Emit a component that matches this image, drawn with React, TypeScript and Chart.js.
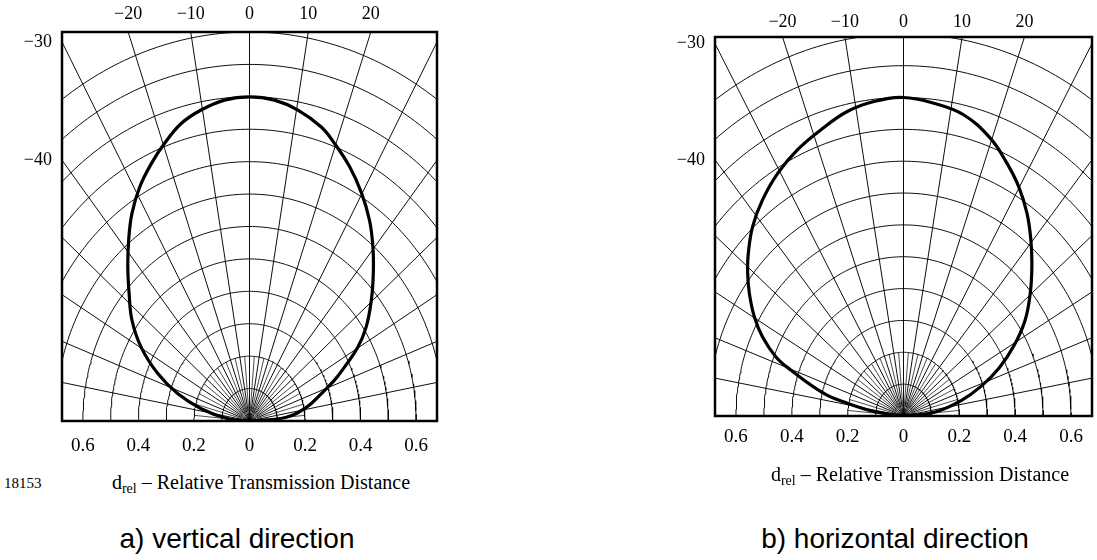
import React, { useEffect, useRef } from 'react';
import { Chart, registerables } from 'chart.js';

Chart.register(...registerables);

// ---- grid definition (polar diagram) ----
const arcRadii = [0.1, 0.2, 0.3, 0.4, 0.5, 0.6, 0.7, 0.8, 0.9, 1.0, 1.1, 1.2];
const spokeAngles = [-90, -80, -70, -60, -50, -40, -30, -20, -10, 0, 10, 20, 30, 40, 50, 60, 70, 80, 90];
const minorSpokeAngles = [-85, -75, -65, -55, -45, -35, -25, -15, -5, 5, 15, 25, 35, 45, 55, 65, 75, 85];

// ---- tick labels ----
const distanceTicks = [-0.6, -0.4, -0.2, 0, 0.2, 0.4, 0.6];
const topAngleTicks = [-20, -10, 0, 10, 20];
const sideAngleTicks = [-30, -40];

// ---- series: angle (deg) vs relative transmission distance ----
const vertAngles = [-90, -84.9, -77.7, -72.0, -66.1, -59.7, -53.7, -47.8, -42.7, -37.9, -33.5, -28.7, -24.0, -19.7, -15.0, -10.3, -5.2, 0, 5.2, 10.3, 15.9, 19.7, 24.7, 29.9, 34.9, 39.6, 44.4, 49.7, 55.4, 59.7, 64.0, 67.6, 72.0, 78.4, 85.2, 90];
const vertDistances = [0, 0.078, 0.178, 0.271, 0.361, 0.452, 0.525, 0.585, 0.646, 0.708, 0.767, 0.823, 0.869, 0.909, 0.95, 0.975, 0.994, 1.0, 0.994, 0.975, 0.943, 0.909, 0.863, 0.81, 0.755, 0.697, 0.637, 0.575, 0.51, 0.452, 0.381, 0.331, 0.271, 0.209, 0.13, 0];

const horizAngles = [-90, -82.5, -78.7, -76.0, -70.3, -67.9, -63.8, -59.7, -55.1, -51.2, -47.4, -42.2, -36.6, -30.6, -24.4, -18.2, -11.9, -6.1, 0, 6.3, 12.8, 19.6, 25.0, 29.8, 34.8, 39.5, 44.4, 49.7, 55.3, 60.7, 66.2, 71.4, 77.0, 83.7, 90];
const horizDistances = [0, 0.107, 0.205, 0.294, 0.429, 0.493, 0.563, 0.619, 0.673, 0.716, 0.755, 0.804, 0.846, 0.885, 0.918, 0.946, 0.977, 0.993, 1.0, 0.988, 0.97, 0.926, 0.876, 0.83, 0.775, 0.717, 0.657, 0.595, 0.53, 0.455, 0.375, 0.294, 0.209, 0.115, 0];

const RAD = Math.PI / 180;
const fmtAngle = (a: number) => (a < 0 ? '\u2212' + Math.abs(a) : String(a));
const polar = (deg: number, r: number) => ({ x: r * Math.sin(deg * RAD), y: r * Math.cos(deg * RAD) });

const frame = {
  id: 'frame',
  afterDatasetsDraw(chart: any) {
    const { ctx, chartArea: a } = chart;
    ctx.save();
    ctx.strokeStyle = '#000';
    ctx.lineWidth = 2.5;
    ctx.strokeRect(a.left, a.top, a.right - a.left, a.bottom - a.top);
    ctx.restore();
  },
};

type PanelProps = {
  left: number; top: number; width: number; height: number;
  area: { l: number; t: number; r: number; b: number };
  xHalf: number; yMax: number;
  angles: number[]; dists: number[];
  bottomPad: number; topPad: number;
};

function Panel(p: PanelProps) {
  const ref = useRef<HTMLCanvasElement | null>(null);
  useEffect(() => {
    if (!ref.current) return;
    const gridStyle = { borderColor: '#000', borderWidth: 0.95, pointRadius: 0, showLine: true, tension: 0, fill: false, clip: 0 as any };
    const datasets: any[] = [];
    arcRadii.forEach((r) => {
      const pts = [];
      for (let a = -90; a <= 90; a += 1) pts.push(polar(a, r));
      datasets.push({ ...gridStyle, data: pts });
    });
    spokeAngles.forEach((a) => {
      datasets.push({ ...gridStyle, data: [polar(a, 0), polar(a, 2)] });
    });
    minorSpokeAngles.forEach((a) => {
      datasets.push({ ...gridStyle, borderWidth: 0.7, data: [polar(a, 0.03), polar(a, 0.2)] });
    });
    datasets.push({
      data: p.angles.map((a, i) => polar(a, p.dists[i])),
      borderColor: '#000', borderWidth: 3.2, pointRadius: 0, showLine: true, tension: 0.4, fill: false, clip: 0,
    });

    const tickFont = { family: '"Liberation Serif", "Times New Roman", serif', size: 18 };
    const chart = new Chart(ref.current, {
      type: 'scatter',
      data: { datasets },
      plugins: [frame],
      options: {
        animation: false,
        responsive: false,
        maintainAspectRatio: false,
        layout: { padding: { left: 0, top: 0, right: p.width - p.area.r, bottom: 0 } },
        plugins: { legend: { display: false }, tooltip: { enabled: false } },
        scales: {
          x: {
            type: 'linear', position: 'bottom', min: -p.xHalf, max: p.xHalf,
            grid: { display: false, drawTicks: false }, border: { display: false },
            afterBuildTicks: (s: any) => { s.ticks = distanceTicks.map((v) => ({ value: v })); },
            afterFit: (s: any) => { s.height = p.height - p.area.b; },
            ticks: {
              autoSkip: false, maxRotation: 0, color: '#000', padding: p.bottomPad,
              font: { ...tickFont, size: 19 },
              callback: (v: any) => (Math.abs(v) < 1e-9 ? '0' : Math.abs(v).toFixed(1)),
            },
          },
          x2: {
            type: 'linear', position: 'top', min: -p.xHalf, max: p.xHalf,
            grid: { display: false, drawTicks: false }, border: { display: false },
            afterBuildTicks: (s: any) => { s.ticks = topAngleTicks.map((a) => ({ value: p.yMax * Math.tan(a * RAD) })); },
            afterFit: (s: any) => { s.height = p.area.t; },
            ticks: {
              autoSkip: false, maxRotation: 0, color: '#000', padding: p.topPad, font: tickFont,
              callback: (_v: any, i: number) => fmtAngle(topAngleTicks[i]),
            },
          },
          y: {
            type: 'linear', position: 'left', min: 0, max: p.yMax,
            grid: { display: false, drawTicks: false }, border: { display: false },
            afterBuildTicks: (s: any) => { s.ticks = sideAngleTicks.map((a) => ({ value: p.xHalf / Math.tan(Math.abs(a) * RAD) })); },
            afterFit: (s: any) => { s.width = p.area.l; },
            ticks: {
              autoSkip: false, color: '#000', padding: 10, font: tickFont,
              callback: (_v: any, i: number) => fmtAngle(sideAngleTicks[i]),
            },
          },
        },
      } as any,
    });
    return () => chart.destroy();
  }, []);
  return (
    <canvas
      ref={ref}
      width={p.width}
      height={p.height}
      style={{ position: 'absolute', left: p.left, top: p.top, width: p.width, height: p.height }}
    />
  );
}

const serif = '"Liberation Serif", "Times New Roman", serif';
const sans = '"Liberation Sans", Arial, sans-serif';

function AxisTitle({ cx, cy }: { cx: number; cy: number }) {
  return (
    <div style={{ position: 'absolute', left: cx, top: cy, transform: 'translate(-50%, -50%)', whiteSpace: 'nowrap', fontFamily: serif, fontSize: 20, color: '#000', lineHeight: 1 }}>
      d<sub style={{ fontSize: 14, verticalAlign: '-0.3em' }}>rel</sub> – Relative Transmission Distance
    </div>
  );
}

function Caption({ cx, cy, text }: { cx: number; cy: number; text: string }) {
  return (
    <div style={{ position: 'absolute', left: cx, top: cy, transform: 'translate(-50%, -50%)', whiteSpace: 'nowrap', fontFamily: sans, fontSize: 28, color: '#000', lineHeight: 1 }}>
      {text}
    </div>
  );
}

export default function App() {
  return (
    <div style={{ position: 'fixed', left: 0, top: 0, width: 1097, height: 560, background: '#fff', overflow: 'hidden' }}>
      <Panel left={0} top={0} width={545} height={470} area={{ l: 62, t: 32, r: 437, b: 421 }} xHalf={0.675} yMax={1.2}
        angles={vertAngles} dists={vertDistances} bottomPad={14} topPad={7} />
      <Panel left={552} top={0} width={545} height={470} area={{ l: 163, t: 37, r: 540, b: 416 }} xHalf={0.675} yMax={1.19}
        angles={horizAngles} dists={horizDistances} bottomPad={10} topPad={4} />
      <AxisTitle cx={261} cy={484} />
      <AxisTitle cx={920} cy={476} />
      <div style={{ position: 'absolute', left: 4, top: 483, transform: 'translateY(-50%)', fontFamily: serif, fontSize: 15, lineHeight: 1 }}>18153</div>
      <Caption cx={237} cy={539} text="a) vertical direction" />
      <Caption cx={895} cy={539} text="b) horizontal direction" />
    </div>
  );
}
